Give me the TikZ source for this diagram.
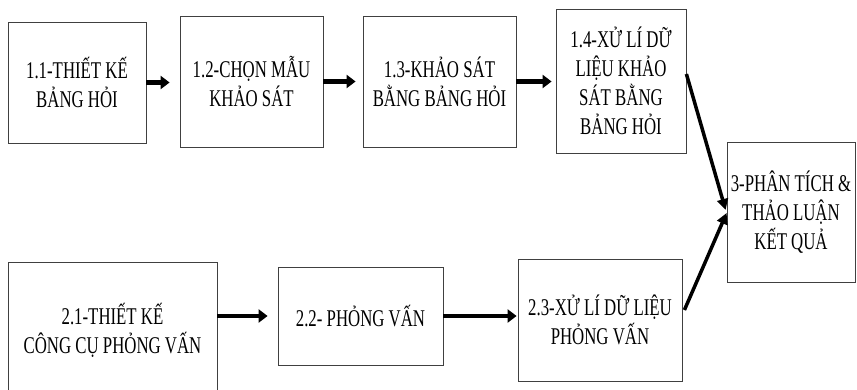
\documentclass[tikz,border=0pt]{standalone}
\usepackage{fontspec}
\newfontfamily\boxfont{Liberation Serif}[FakeStretch=0.7]
\usepackage{tikz}
\usetikzlibrary{arrows.meta, positioning}

\begin{document}
\begin{tikzpicture}[x=1pt, y=-1pt,
    box/.style={draw=black!75, line width=0.8pt, align=center, inner sep=0pt,
      font=\boxfont\fontsize{24}{29}\selectfont},
    flow/.style={line width=4.5pt, -{Triangle[length=9pt, width=13pt]}},
    slant/.style={line width=3.5pt, -{Triangle[length=11pt, width=11pt]}}]
    \useasboundingbox (0, 0) rectangle (857, 390);
    % first row
    \node[box, minimum width=138pt, minimum height=121pt] (n11) at (77, 82.5) {1.1-THIẾT KẾ\\BẢNG HỎI};
    \node[box, minimum width=143pt, minimum height=131pt] (n12) at (251.5, 81.5) {1.2-CHỌN MẪU\\KHẢO SÁT};
    \node[box, minimum width=153pt, minimum height=131pt] (n13) at (439.5, 81.5) {1.3-KHẢO SÁT\\BẰNG BẢNG HỎI};
    \node[box, minimum width=130pt, minimum height=144pt] (n14) at (621, 81) {1.4-XỬ LÍ DỮ\\LIỆU KHẢO\\SÁT BẰNG\\BẢNG HỎI};
    % result
    \node[box, minimum width=128pt, minimum height=140pt] (n3) at (791, 212) {3-PHÂN TÍCH \&\\THẢO LUẬN\\KẾT QUẢ};
    % second row
    \node[box, minimum width=209pt, minimum height=136pt] (n21) at (112.5, 330) {2.1-THIẾT KẾ\\CÔNG CỤ PHỎNG VẤN};
    \node[box, minimum width=165pt, minimum height=98pt] (n22) at (360.5, 316) {2.2- PHỎNG VẤN};
    \node[box, minimum width=164pt, minimum height=122pt] (n23) at (600, 320) {2.3-XỬ LÍ DỮ LIỆU\\PHỎNG VẤN};

    \draw[flow, shorten >=10pt] (n11) -- (n11.east -| n12.west);
    \draw[flow, shorten >=7pt] (n12) -- (n12.east -| n13.west);
    \draw[flow, shorten >=4pt] (n13) -- (n13.east -| n14.west);
    \draw[flow, shorten >=10pt] (n21.east |- n22.west) -- (n22.west);
    \draw[flow, shorten >=1pt] (n22) -- (n22.east -| n23.west);
    \draw[slant] ([yshift=7pt]n14.east) -- ([yshift=2pt, xshift=-1pt]n3.west);
    \draw[slant] ([yshift=10pt, xshift=2pt]n23.east) -- ([yshift=-1pt]n3.west);
\end{tikzpicture}
\end{document}
